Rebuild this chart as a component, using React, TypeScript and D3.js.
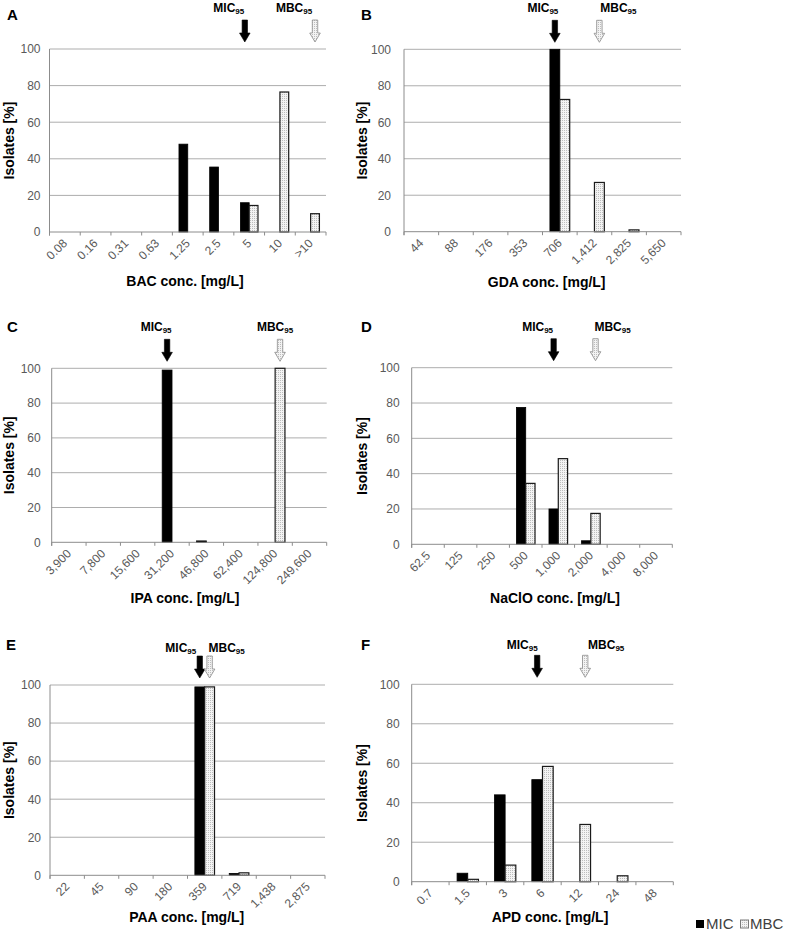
import React from "react";
import * as d3 from "d3";

// ---------- data ----------
const panelLetters = ["A", "B", "C", "D", "E", "F"];
const agents = ["BAC", "GDA", "IPA", "NaClO", "PAA", "APD"];

const bacCats = ["0.08", "0.16", "0.31", "0.63", "1.25", "2.5", "5", "10", ">10"];
const bacMIC = [0, 0, 0, 0, 48, 35.5, 16, 0, 0];
const bacMBC = [0, 0, 0, 0, 0, 0, 14.5, 76.5, 10];

const gdaCats = ["44", "88", "176", "353", "706", "1,412", "2,825", "5,650"];
const gdaMIC = [0, 0, 0, 0, 100, 0, 0, 0];
const gdaMBC = [0, 0, 0, 0, 72.5, 27, 1, 0];

const ipaCats = ["3,900", "7,800", "15,600", "31,200", "46,800", "62,400", "124,800", "249,600"];
const ipaMIC = [0, 0, 0, 99, 0.8, 0, 0, 0];
const ipaMBC = [0, 0, 0, 0, 0, 0, 100, 0];

const naCats = ["62.5", "125", "250", "500", "1,000", "2,000", "4,000", "8,000"];
const naMIC = [0, 0, 0, 77.5, 20, 2, 0, 0];
const naMBC = [0, 0, 0, 34.5, 48.5, 17.5, 0, 0];

const paaCats = ["22", "45", "90", "180", "359", "719", "1,438", "2,875"];
const paaMIC = [0, 0, 0, 0, 99, 1, 0, 0];
const paaMBC = [0, 0, 0, 0, 99, 1.3, 0, 0];

const apdCats = ["0.7", "1.5", "3", "6", "12", "24", "48"];
const apdMIC = [0, 4.3, 44, 51.7, 0, 0, 0];
const apdMBC = [0, 1.2, 8.4, 58.4, 29, 3, 0];

// category index of MIC95 / MBC95 per panel
const mic95Index = [6, 4, 3, 4, 4, 3];
const mbc95Index = [8, 5, 6, 5, 4, 4];

const yTicks = [0, 20, 40, 60, 80, 100];
const legendLabels = ["MIC", "MBC"];

const categories = [bacCats, gdaCats, ipaCats, naCats, paaCats, apdCats];
const micValues = [bacMIC, gdaMIC, ipaMIC, naMIC, paaMIC, apdMIC];
const mbcValues = [bacMBC, gdaMBC, ipaMBC, naMBC, paaMBC, apdMBC];

// ---------- layout ----------
const layout = [
  { x0: 49.5, x1: 326, yTop: 49, y0: 232, letterX: 7, letterY: 20, micDx: -16, mbcDx: -21, lblY: 12, tickGap: 9, titleX: 185, titleY: 286 },
  { x0: 404, x1: 681, yTop: 49.3, y0: 231.7, letterX: 361, letterY: 20, micDx: -12, mbcDx: 19, lblY: 12, tickGap: 13, titleX: 546.7, titleY: 286.5 },
  { x0: 51.7, x1: 326.7, yTop: 368.3, y0: 542.3, letterX: 7, letterY: 332, micDx: -11, mbcDx: -5, lblY: 331, tickGap: 11, titleX: 185, titleY: 603 },
  { x0: 411.7, x1: 672.3, yTop: 367.7, y0: 544.3, letterX: 361, letterY: 332, micDx: -16, mbcDx: 17, lblY: 331, tickGap: 12, titleX: 555, titleY: 603 },
  { x0: 50, x1: 325, yTop: 685, y0: 875.3, letterX: 6, letterY: 650, micDx: -19, mbcDx: 17, lblY: 652, tickGap: 9, titleX: 186.7, titleY: 922 },
  { x0: 411.7, x1: 673.3, yTop: 684.3, y0: 881.7, letterX: 361, letterY: 650, micDx: -15, mbcDx: 21, lblY: 649, tickGap: 12, titleX: 550, titleY: 922 },
];

const FONT = "'Liberation Sans', Arial, Helvetica, sans-serif";
const GRID = "#adadad";
const AXIS = "#8c8c8c";
const TXT = "#595959";

function arrowPath(cx: number, yA: number, yB: number) {
  const sw = 2.7, hw = 5.3, hh = 9;
  return `M${cx - sw},${yA}L${cx + sw},${yA}L${cx + sw},${yB - hh}L${cx + hw},${yB - hh}L${cx},${yB}L${cx - hw},${yB - hh}L${cx - sw},${yB - hh}Z`;
}

function Panel({ i }: { i: number }) {
  const L = layout[i];
  const cats = categories[i];
  const mic = micValues[i];
  const mbc = mbcValues[i];
  const x = d3.scaleBand<string>().domain(cats).range([L.x0, L.x1]).padding(0);
  const y = d3.scaleLinear().domain([0, 100]).range([L.y0, L.yTop]);
  const bw = x.bandwidth();
  const barW = bw / 3.5;
  const center = (c: string) => (x(c) as number) + bw / 2;
  const micCenter = center(cats[mic95Index[i]]) - barW / 2;
  const mbcCenter = center(cats[mbc95Index[i]]) + barW / 2;
  const arrowBottom = L.yTop - 7;
  const arrowTop = arrowBottom - 22;
  const boundaries = cats.map((c) => x(c) as number).concat([L.x1]);
  return (
    <g>
      <text x={L.letterX} y={L.letterY} fontFamily={FONT} fontWeight="bold" fontSize={15} fill="#000">
        {panelLetters[i]}
      </text>
      {yTicks.filter((t) => t > 0).map((t) => (
        <line key={t} x1={L.x0} x2={L.x1} y1={y(t)} y2={y(t)} stroke={GRID} strokeWidth={1} />
      ))}
      <line x1={L.x0} x2={L.x0} y1={L.yTop} y2={L.y0 + 3.5} stroke={AXIS} strokeWidth={1} />
      {yTicks.map((t) => (
        <text key={t} x={L.x0 - L.tickGap} y={y(t)} dy="0.36em" textAnchor="end" fontFamily={FONT} fontSize={12} fill={TXT}>
          {t}
        </text>
      ))}
      {cats.map((c, k) =>
        mic[k] > 0 ? (
          <rect key={"mic" + c} x={center(c) - barW} y={y(mic[k])} width={barW} height={L.y0 - y(mic[k])} fill="#000" stroke="#000" strokeWidth={0.8} />
        ) : null
      )}
      {cats.map((c, k) =>
        mbc[k] > 0 ? (
          <rect key={"mbc" + c} x={center(c)} y={y(mbc[k])} width={barW} height={L.y0 - y(mbc[k])} fill="url(#dots)" stroke="#1a1a1a" strokeWidth={1.2} />
        ) : null
      )}
      <line x1={L.x0} x2={L.x1} y1={L.y0} y2={L.y0} stroke={AXIS} strokeWidth={1} />
      {boundaries.map((bx, k) => (
        <line key={k} x1={bx} x2={bx} y1={L.y0} y2={L.y0 + 3.5} stroke={AXIS} strokeWidth={1} />
      ))}
      {cats.map((c) => {
        const ax = center(c) + 3;
        const ay = L.y0 + 12;
        return (
          <text key={"xl" + c} x={0} y={0} textAnchor="end" transform={`translate(${ax},${ay}) rotate(-45)`} fontFamily={FONT} fontSize={12} fill={TXT}>
            {c}
          </text>
        );
      })}
      <text
        x={0}
        y={0}
        transform={`translate(${i % 2 === 0 ? 14 : 367},${(L.yTop + L.y0) / 2}) rotate(-90)`}
        textAnchor="middle"
        fontFamily={FONT}
        fontWeight="bold"
        fontSize={14}
        fill="#000"
      >
        Isolates [%]
      </text>
      <text x={L.titleX} y={L.titleY} textAnchor="middle" fontFamily={FONT} fontWeight="bold" fontSize={14} fill="#000">
        {agents[i]} conc. [mg/L]
      </text>
      <text x={micCenter + L.micDx} y={L.lblY} textAnchor="middle" fontFamily={FONT} fontWeight="bold" fontSize={12} fill="#000">
        MIC<tspan fontSize={8} dy={2}>95</tspan>
      </text>
      <text x={mbcCenter + L.mbcDx} y={L.lblY} textAnchor="middle" fontFamily={FONT} fontWeight="bold" fontSize={12} fill="#000">
        MBC<tspan fontSize={8} dy={2}>95</tspan>
      </text>
      <path d={arrowPath(micCenter, arrowTop, arrowBottom)} fill="#000" stroke="#000" strokeWidth={0.6} />
      <path d={arrowPath(mbcCenter, arrowTop, arrowBottom)} fill="url(#dots)" stroke="#8a8a8a" strokeWidth={0.8} />
    </g>
  );
}

export default function App() {
  return (
    <svg
      width={800}
      height={932}
      viewBox="0 0 800 932"
      style={{ position: "absolute", left: 0, top: 0, background: "#fff" }}
    >
      <defs>
        <pattern id="dots" width={2} height={2} patternUnits="userSpaceOnUse">
          <rect width={2} height={2} fill="#f3f3f3" />
          <rect width={1} height={1} fill="#bdbdbd" />
        </pattern>
      </defs>
      <rect width={800} height={932} fill="#fff" />
      {panelLetters.map((_, i) => (
        <Panel key={i} i={i} />
      ))}
      <rect x={696} y={920} width={8} height={8} fill="#000" />
      <text x={706} y={928.5} fontFamily={FONT} fontSize={15} fill="#404040">
        {legendLabels[0]}
      </text>
      <rect x={740.5} y={920} width={8} height={8} fill="url(#dots)" stroke="#7a7a7a" strokeWidth={1} />
      <text x={750} y={928.5} fontFamily={FONT} fontSize={15} fill="#404040">
        {legendLabels[1]}
      </text>
    </svg>
  );
}
